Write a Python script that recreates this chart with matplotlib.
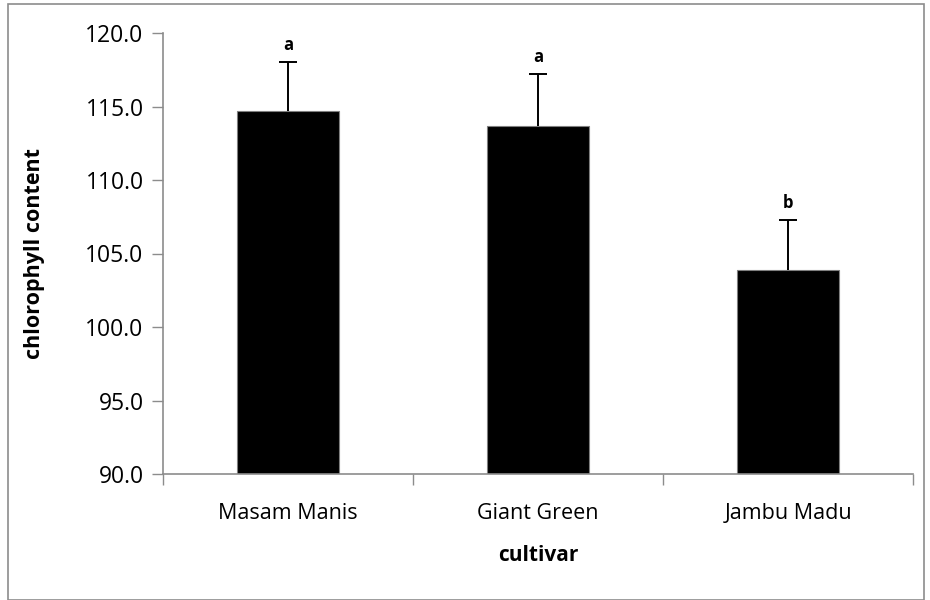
import matplotlib
matplotlib.use('Agg')
import matplotlib.pyplot as plt
from matplotlib.patches import Rectangle
import numpy as np

# Data
cultivars = ['Masam Manis', 'Giant Green', 'Jambu Madu']
chlorophyll = [114.7, 113.7, 103.9]
sd_upper = [3.3, 3.5, 3.4]
letters = ['a', 'a', 'b']

plt.rcParams['font.family'] = ['Open Sans', 'DejaVu Sans']

fig = plt.figure(figsize=(9.3, 6.0), dpi=100)
ax = fig.add_axes([0.1753, 0.21, 0.8065, 0.735])

# gray frame around the whole chart
fig.patches.append(Rectangle((0.009, 0.0), 0.985, 0.993, transform=fig.transFigure,
                             fill=False, edgecolor='#8c8c8c', linewidth=1.2))

x = np.arange(len(cultivars))
means = np.array(chlorophyll)
tops = means + np.array(sd_upper)
ax.bar(x, means - 90, bottom=90, width=0.405, color='black',
       edgecolor='#7f7f7f', linewidth=0.8, zorder=2)
# upper-only error bars: stem + cap
ax.vlines(x, means, tops, color='black', linewidth=1.4, zorder=3)
ax.plot(x, tops, linestyle='none', marker='_', markersize=13,
        markeredgewidth=1.4, color='black', zorder=3)

for xi, top, lab in zip(x, tops, letters):
    ax.text(xi, top + 0.55, lab, ha='center', va='bottom', fontsize=12,
            fontweight='bold')

ax.set_xlim(-0.5, len(x) - 0.5)
ax.set_ylim(90, 120)
ax.set_yticks(np.arange(90, 121, 5))
ax.set_yticklabels([f'{v:.1f}' for v in np.arange(90, 121, 5)], fontsize=16.5)

# category labels centred, ticks at boundaries
ax.set_xticks(x)
ax.set_xticklabels(cultivars, fontsize=15.5)
ax.tick_params(axis='x', which='major', length=0, pad=21)
ax.set_xticks(np.arange(-0.5, len(x), 1), minor=True)
ax.tick_params(axis='x', which='minor', length=8, color='#8c8c8c', width=1)
ax.tick_params(axis='y', length=8, color='#8c8c8c', width=1, pad=6)

for side in ['top', 'right']:
    ax.spines[side].set_visible(False)
for side in ['left', 'bottom']:
    ax.spines[side].set_color('#8c8c8c')
    ax.spines[side].set_linewidth(1.2)

ax.set_xlabel('cultivar', fontsize=15, fontweight='bold', labelpad=15)
ax.set_ylabel('chlorophyll content', fontsize=15.5, fontweight='bold', labelpad=29)

plt.savefig('out.png', dpi=100)
